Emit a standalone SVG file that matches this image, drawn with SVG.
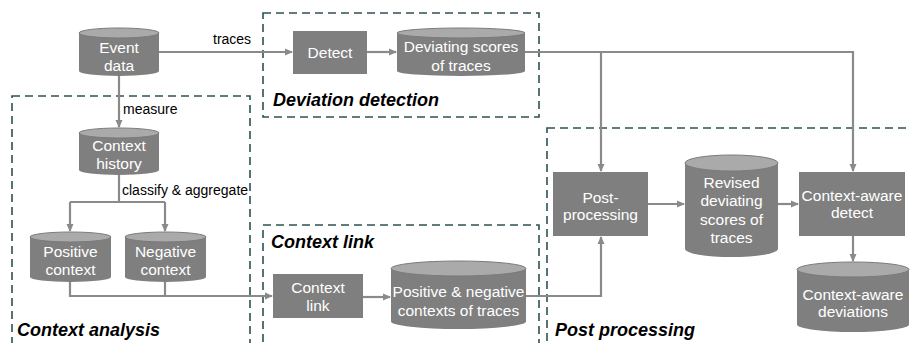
<svg xmlns="http://www.w3.org/2000/svg" width="910" height="343" viewBox="0 0 910 343">
<defs>
<marker id="arr" markerWidth="8" markerHeight="8" refX="7" refY="4" orient="auto" markerUnits="userSpaceOnUse">
<path d="M0,0.5 L8,4 L0,7.5 Z" fill="#8a8a8a"/>
</marker>
<style>
.grp{fill:none;stroke:#2c5252;stroke-width:1.6;stroke-dasharray:8 5}
.gl{font-family:"Liberation Sans",Arial,sans-serif;font-size:18px;font-weight:bold;font-style:italic;fill:#000}
.body{fill:#7f7f7f}
.top{fill:#aaaaaa;stroke:#7a7a7a;stroke-width:1}
.box{fill:#7f7f7f}
.t{font-family:"Liberation Sans",Arial,sans-serif;font-size:15.5px;fill:#fff;text-anchor:middle}
.lbl{font-family:"Liberation Sans",Arial,sans-serif;font-size:14px;fill:#000}
.c{fill:none;stroke:#8a8a8a;stroke-width:2.2}
</style>
</defs>
<rect width="910" height="343" fill="#fff"/>
<g id="groups">
<rect class="grp" x="12" y="96" width="238" height="270"/>
<rect class="grp" x="263" y="13" width="276" height="104"/>
<rect class="grp" x="263" y="225" width="276" height="140"/>
<rect class="grp" x="547" y="128" width="380" height="240"/>
<text class="gl" x="273" y="106">Deviation detection</text>
<text class="gl" x="271" y="248">Context link</text>
<text class="gl" x="17" y="336">Context analysis</text>
<text class="gl" x="555" y="336">Post processing</text>
</g>
<g id="connectors">
<path class="c" d="M159,52 H292" marker-end="url(#arr)"/>
<path class="c" d="M367,52 H396" marker-end="url(#arr)"/>
<path class="c" d="M525,52 H853 V171" marker-end="url(#arr)"/>
<path class="c" d="M601,52 V171" marker-end="url(#arr)"/>
<path class="c" d="M119,76 V127" marker-end="url(#arr)"/>
<path class="c" d="M119,175 V202"/>
<path class="c" d="M70,202 H165"/>
<path class="c" d="M70,202 V231" marker-end="url(#arr)"/>
<path class="c" d="M165,202 V231" marker-end="url(#arr)"/>
<path class="c" d="M70,282 V296 H272" marker-end="url(#arr)"/>
<path class="c" d="M165,282 V296"/>
<path class="c" d="M363,297 H390" marker-end="url(#arr)"/>
<path class="c" d="M526,296 H601 V237" marker-end="url(#arr)"/>
<path class="c" d="M648,204 H684" marker-end="url(#arr)"/>
<path class="c" d="M778,204 H798" marker-end="url(#arr)"/>
<path class="c" d="M853,236 V261" marker-end="url(#arr)"/>
<text class="lbl" x="213" y="44">traces</text>
<text class="lbl" x="123" y="114">measure</text>
<text class="lbl" x="122" y="195">classify &amp; aggregate</text>
</g>
<g id="event-data">
<path class="body" d="M79,33 V71 A40,5 0 0 0 159,71 V33 Z"/>
<ellipse class="top" cx="119" cy="33" rx="40" ry="5"/>
<text class="t" x="119" y="53">Event</text>
<text class="t" x="119" y="71">data</text>
</g>
<g id="context-history">
<path class="body" d="M79,133 V170 A40,5 0 0 0 159,170 V133 Z"/>
<ellipse class="top" cx="119" cy="133" rx="40" ry="5"/>
<text class="t" x="119" y="151">Context</text>
<text class="t" x="119" y="169">history</text>
</g>
<g id="positive-context">
<path class="body" d="M30,237 V277 A40.5,5 0 0 0 111,277 V237 Z"/>
<ellipse class="top" cx="70.5" cy="237" rx="40.5" ry="5"/>
<text class="t" x="70.5" y="257">Positive</text>
<text class="t" x="70.5" y="275">context</text>
</g>
<g id="negative-context">
<path class="body" d="M125,237 V277 A40.5,5 0 0 0 206,277 V237 Z"/>
<ellipse class="top" cx="165.5" cy="237" rx="40.5" ry="5"/>
<text class="t" x="165.5" y="257">Negative</text>
<text class="t" x="165.5" y="275">context</text>
</g>
<g id="detect">
<rect class="box" x="293" y="31" width="74" height="43"/>
<text class="t" x="330" y="58">Detect</text>
</g>
<g id="deviating-scores">
<path class="body" d="M397,33 V71 A64,5 0 0 0 525,71 V33 Z"/>
<ellipse class="top" cx="461" cy="33" rx="64" ry="5"/>
<text class="t" x="461" y="52">Deviating scores</text>
<text class="t" x="461" y="71">of traces</text>
</g>
<g id="context-link">
<rect class="box" x="273" y="274" width="90" height="44"/>
<text class="t" x="318" y="293">Context</text>
<text class="t" x="318" y="311">link</text>
</g>
<g id="pos-neg-contexts">
<path class="body" d="M391,268.5 V321.5 A67.5,7.5 0 0 0 526,321.5 V268.5 Z"/>
<ellipse class="top" cx="458.5" cy="268.5" rx="67.5" ry="7.5"/>
<text class="t" x="458.5" y="297">Positive &amp; negative</text>
<text class="t" x="458.5" y="316">contexts of traces</text>
</g>
<g id="post-processing">
<rect class="box" x="553" y="172" width="95" height="64"/>
<text class="t" x="600.5" y="203">Post-</text>
<text class="t" x="600.5" y="220">processing</text>
</g>
<g id="revised-scores">
<path class="body" d="M685,163 V249 A46.5,8 0 0 0 778,249 V163 Z"/>
<ellipse class="top" cx="731.5" cy="163" rx="46.5" ry="8"/>
<text class="t" x="731.5" y="188">Revised</text>
<text class="t" x="731.5" y="206">deviating</text>
<text class="t" x="731.5" y="225">scores of</text>
<text class="t" x="731.5" y="243">traces</text>
</g>
<g id="context-aware-detect">
<rect class="box" x="799" y="172" width="106" height="64"/>
<text class="t" x="852" y="201">Context-aware</text>
<text class="t" x="852" y="218">detect</text>
</g>
<g id="context-aware-deviations">
<path class="body" d="M797,269.5 V324.5 A56,7.5 0 0 0 909,324.5 V269.5 Z"/>
<ellipse class="top" cx="853" cy="269.5" rx="56" ry="7.5"/>
<text class="t" x="853" y="300">Context-aware</text>
<text class="t" x="853" y="317">deviations</text>
</g>
</svg>
